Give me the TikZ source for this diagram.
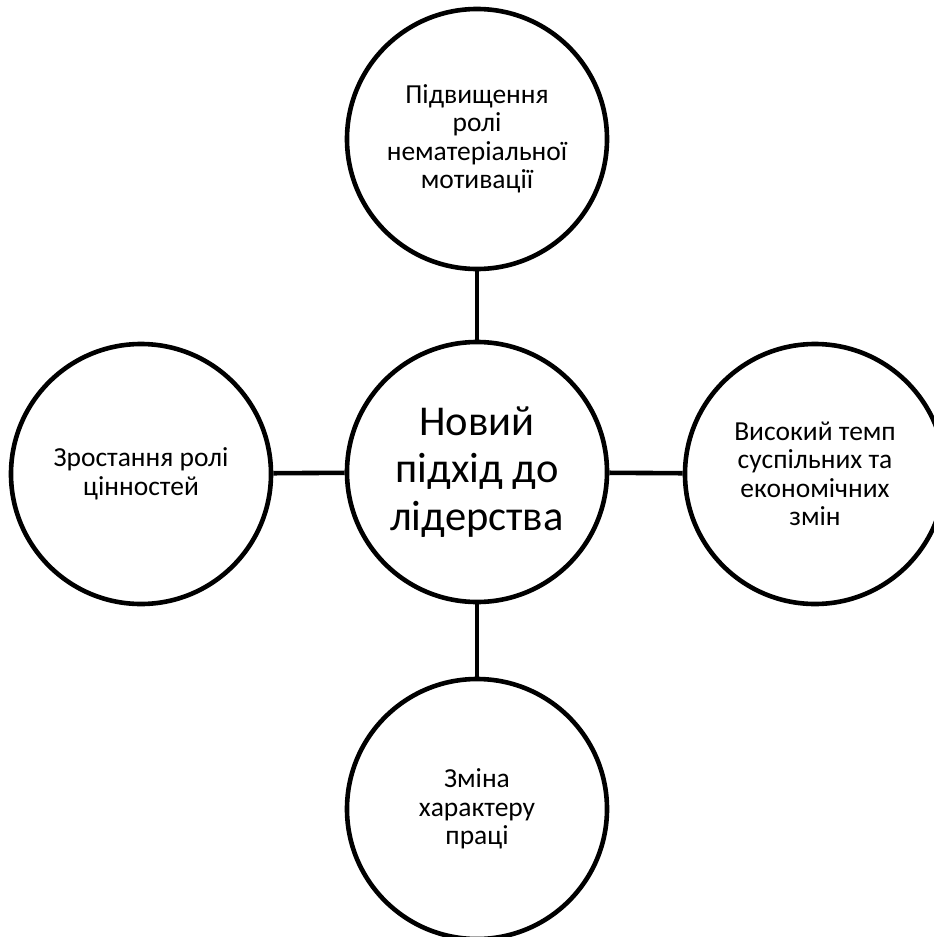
\documentclass[tikz,border=0pt]{standalone}
\usepackage{fontspec}
\setmainfont{Carlito}
\usetikzlibrary{positioning}

\tikzset{
  bubble/.style={draw, circle, line width=4.6pt, minimum size=260pt, inner sep=0pt, align=center, font=\fontsize{27.5}{28.5}\selectfont},
  hub/.style={bubble, font=\fontsize{42.5}{47.5}\selectfont},
  link/.style={line width=4.6pt}
}

\begin{document}
\begin{tikzpicture}[x=1pt,y=1pt]
\useasboundingbox (0,0) rectangle (934,-937);
\clip (0,0) rectangle (934,-937);
% centre
\node[hub] (lead) at (477,-472) {Новий\\підхід до\\лідерства};
% outer circles
\node[bubble] (motiv) at (477,-139) {Підвищення\\ролі\\нематеріальної\\мотивації};
\node[bubble] (tempo) at (815,-474) {Високий темп\\суспільних та\\економічних\\змін};
\node[bubble] (work) at (477,-809) {Зміна\\характеру\\праці};
\node[bubble] (value) at (141,-474) {Зростання ролі\\цінностей};
% links
\draw[link] (lead) -- (motiv);
\draw[link] (lead) -- (tempo);
\draw[link] (lead) -- (work);
\draw[link] (lead) -- (value);
\end{tikzpicture}
\end{document}
